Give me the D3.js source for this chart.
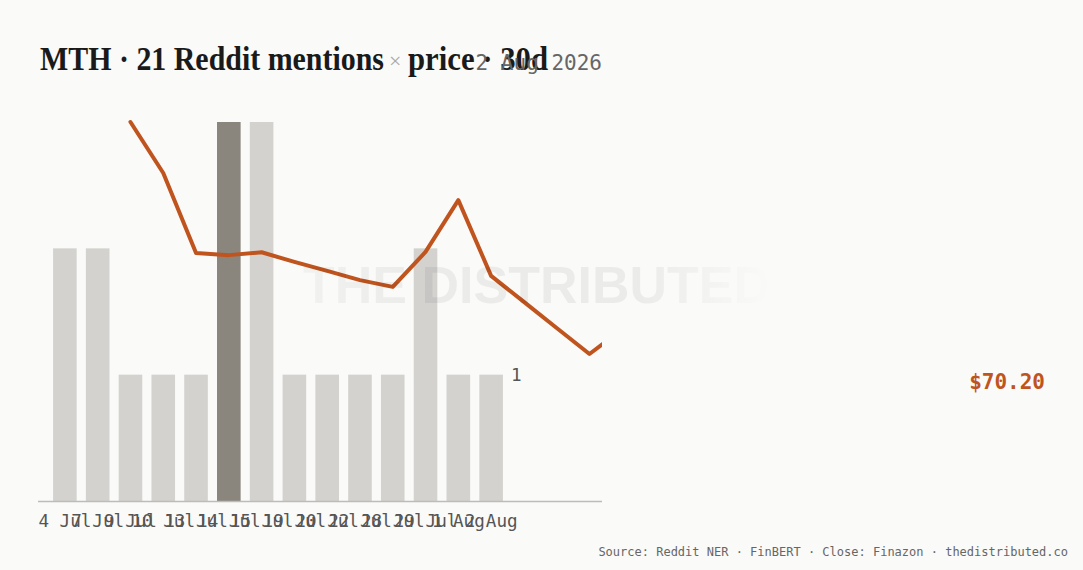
<!DOCTYPE html>
<html><head><meta charset="utf-8">
<script src="https://cdn.jsdelivr.net/npm/d3@7"></script>
<style>
html,body{margin:0;padding:0;background:#fafaf8;}
svg{display:block}
</style></head><body>
<svg id="c" width="1083" height="570"></svg>
<script>
// ---- data ----
const mentionDates  = ["4 Jul","7 Jul","9 Jul","10 Jul","13 Jul","14 Jul","15 Jul","19 Jul","20 Jul","22 Jul","28 Jul","29 Jul","1 Aug","2 Aug"];
const mentionCounts = [2,2,1,1,1,3,3,1,1,1,1,2,1,1];
const highlightDate = "14 Jul";
// price series: slot index along the bar step grid, close price
const priceSlot  = [2,3,4,5,6,7,8,9,10,11,12,13,14,15,16,17];
const priceClose = [76.00,74.57,72.33,72.27,72.35,72.08,71.83,71.57,71.38,72.36,73.81,71.69,70.96,70.23,69.50,70.20];
const titleMain = "MTH · 21 Reddit mentions";
const titleSep  = "×";
const titleTail = "price · 30d";
const dateLabel = "2 Aug 2026";
const lastPriceLabel = "$70.20";
const sourceLabel = "Source: Reddit NER · FinBERT · Close: Finazon · thedistributed.co";
const watermark = "THE DISTRIBUTED";

// ---- layout ----
const W = 1083, H = 570;
const plot = {left: 38, right: 602, top: 122, bottom: 501};
const mono = "'DejaVu Sans Mono', monospace";
const svg = d3.select("#c");
svg.append("rect").attr("width", W).attr("height", H).attr("fill", "#fafaf8");

const x = d3.scaleBand().domain(mentionDates).range([38, 518]).paddingInner(0.28).paddingOuter(0.46);
const y = d3.scaleLinear().domain([0, d3.max(mentionCounts)]).range([plot.bottom, plot.top]);
const c0 = x(mentionDates[0]) + x.bandwidth()/2;
const xs = d3.scaleLinear().domain([0, 1]).range([c0, c0 + x.step()]);
const yp = d3.scaleLinear().domain(d3.extent(priceClose)).range([354, plot.top]);

const defs = svg.append("defs");
defs.append("clipPath").attr("id", "clip").append("rect")
  .attr("x", plot.left).attr("y", 0).attr("width", plot.right - plot.left).attr("height", H);
const g = defs.append("linearGradient").attr("id", "wm").attr("x1", "0").attr("x2", "1").attr("y1", "0").attr("y2", "0");
[[0, 0.035],[0.25, 0.06],[0.72, 0.06],[0.86, 0.03],[1, 0.0]].forEach(([o, a]) =>
  g.append("stop").attr("offset", o).attr("stop-color", "#000").attr("stop-opacity", a));

// bars
svg.append("g").selectAll("rect").data(mentionDates).join("rect")
  .attr("x", d => x(d)).attr("width", x.bandwidth())
  .attr("y", (d, i) => y(mentionCounts[i]))
  .attr("height", (d, i) => y(0) - y(mentionCounts[i]))
  .attr("fill", d => d === highlightDate ? "#8a857d" : "#d3d2cf");

// baseline
svg.append("line").attr("x1", plot.left).attr("x2", plot.right)
  .attr("y1", y(0) + 0.5).attr("y2", y(0) + 0.5)
  .attr("stroke", "#bcbcb8").attr("stroke-width", 1.5);

// x axis labels
const ax = svg.append("g").attr("transform", `translate(0,${y(0)})`)
  .call(d3.axisBottom(x).tickSize(0).tickPadding(13.5));
ax.select(".domain").remove();
ax.selectAll("text").attr("font-family", mono).attr("font-size", 17.6).attr("fill", "#555");

// last bar value label
const lastD = mentionDates[mentionDates.length - 1];
svg.append("text").attr("x", x(lastD) + x.bandwidth() + 8).attr("y", y(mentionCounts[mentionCounts.length - 1]))
  .attr("dy", "0.35em").attr("font-family", mono).attr("font-size", 17.6).attr("fill", "#555")
  .text(mentionCounts[mentionCounts.length - 1]);

// price line
const line = d3.line().x((d, i) => xs(priceSlot[i])).y(d => yp(d));
svg.append("path").datum(priceClose).attr("clip-path", "url(#clip)")
  .attr("d", line).attr("fill", "none").attr("stroke", "#c0541e")
  .attr("stroke-width", 4).attr("stroke-linejoin", "round").attr("stroke-linecap", "round");

// watermark
svg.append("text").attr("x", 537).attr("y", 303).attr("text-anchor", "middle")
  .attr("font-family", "'Liberation Sans', Arial, sans-serif").attr("font-weight", 700)
  .attr("font-size", 52).attr("fill", "url(#wm)").text(watermark);

// title
const serif = "'Liberation Serif', 'Times New Roman', serif";
svg.append("text").attr("x", 40).attr("y", 70).attr("font-family", serif).attr("font-weight", 700)
  .attr("font-size", 34).attr("fill", "#1a1a1a").attr("textLength", 344).attr("lengthAdjust", "spacingAndGlyphs")
  .text(titleMain);
svg.append("text").attr("x", 389).attr("y", 68).attr("font-family", serif)
  .attr("font-size", 22).attr("fill", "#aaa").text(titleSep);
svg.append("text").attr("x", 408).attr("y", 70).attr("font-family", serif).attr("font-weight", 700)
  .attr("font-size", 34).attr("fill", "#1a1a1a").attr("textLength", 140).attr("lengthAdjust", "spacingAndGlyphs")
  .text(titleTail);
svg.append("text").attr("x", plot.right).attr("y", 70).attr("text-anchor", "end")
  .attr("font-family", mono).attr("font-size", 21).attr("fill", "#666").text(dateLabel);

// last price label
svg.append("text").attr("x", 1045).attr("y", 382).attr("dy", "0.35em").attr("text-anchor", "end")
  .attr("font-family", mono).attr("font-size", 21).attr("font-weight", 700).attr("fill", "#c0541e")
  .text(lastPriceLabel);

// source
svg.append("text").attr("x", 1068).attr("y", 556).attr("text-anchor", "end")
  .attr("font-family", mono).attr("font-size", 12).attr("fill", "#666").text(sourceLabel);
</script>
</body></html>
